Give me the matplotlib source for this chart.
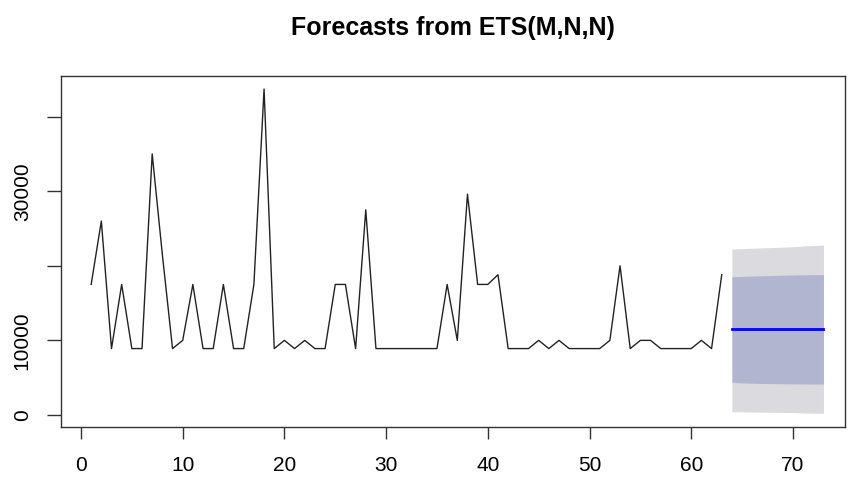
import numpy as np
import matplotlib
matplotlib.use("Agg")
import matplotlib.pyplot as plt

# observed series (t = 1..63)
obs = [17500, 26000, 8900, 17500, 8900, 8900, 35000, 21500, 8900, 10000,
       17500, 8900, 8900, 17500, 8900, 8900, 17500, 43700, 8900, 10000,
       8900, 10000, 8900, 8900, 17500, 17500, 8900, 27500, 8900, 8900,
       8900, 8900, 8900, 8900, 8900, 17500, 10000, 29600, 17500, 17500,
       18800, 8900, 8900, 8900, 10000, 8900, 10000, 8900, 8900, 8900,
       8900, 10000, 20000, 8900, 10000, 10000, 8900, 8900, 8900, 8900,
       10000, 8900, 18800]

# forecast horizon (t = 64..73)
fc_mean = [11500] * 10
lo80 = [4380, 4300, 4250, 4220, 4200, 4180, 4170, 4160, 4150, 4150]
hi80 = [18540, 18580, 18620, 18660, 18700, 18740, 18770, 18790, 18800, 18810]
lo95 = [440, 420, 400, 380, 360, 340, 320, 280, 250, 230]
hi95 = [22250, 22300, 22350, 22400, 22450, 22500, 22560, 22650, 22720, 22790]

xticks = [0, 10, 20, 30, 40, 50, 60, 70]
yticks = [0, 10000, 20000, 30000, 40000]
ylabels = ["0", "10000", "", "30000", ""]

TICKFONT = ["Liberation Sans Narrow", "Liberation Sans", "DejaVu Sans"]


def main() -> None:
    fig = plt.figure(figsize=(8.49, 4.79), dpi=100)
    ax = fig.add_axes([0.0718, 0.1086, 0.9235, 0.7327])

    t_obs = np.arange(1, len(obs) + 1)
    t_fc = np.arange(len(obs) + 1, len(obs) + 1 + len(fc_mean))

    # prediction intervals
    ax.fill_between(t_fc, lo95, hi95, color="#DBDBDF", linewidth=0)
    ax.fill_between(t_fc, lo80, hi80, color="#B1B5CF", linewidth=0)

    ax.plot(t_obs, obs, color="#222222", linewidth=1.0)
    ax.plot(t_fc, fc_mean, color="#0000FF", linewidth=2.0)

    ax.set_xlim(-1.97, 75.12)
    ax.set_ylim(-1610, 45440)

    ax.set_xticks(xticks)
    ax.set_xticklabels([str(v) for v in xticks], family=TICKFONT, fontsize=15)
    ax.set_yticks(yticks)
    ax.set_yticklabels(ylabels, family=TICKFONT, fontsize=15,
                       rotation=90, va="center")

    ax.tick_params(axis="x", length=8.6, width=1.0, color="#333333", pad=12)
    ax.tick_params(axis="y", length=10, width=1.0, color="#333333", pad=11)
    for sp in ax.spines.values():
        sp.set_color("#333333")
        sp.set_linewidth(1.0)

    fig.text(0.5336, 0.942, "Forecasts from ETS(M,N,N)", ha="center", va="center",
             fontsize=18, fontweight="bold", family=["Liberation Sans", "DejaVu Sans"])

    fig.savefig("out.png", dpi=100)


if __name__ == "__main__":
    main()
